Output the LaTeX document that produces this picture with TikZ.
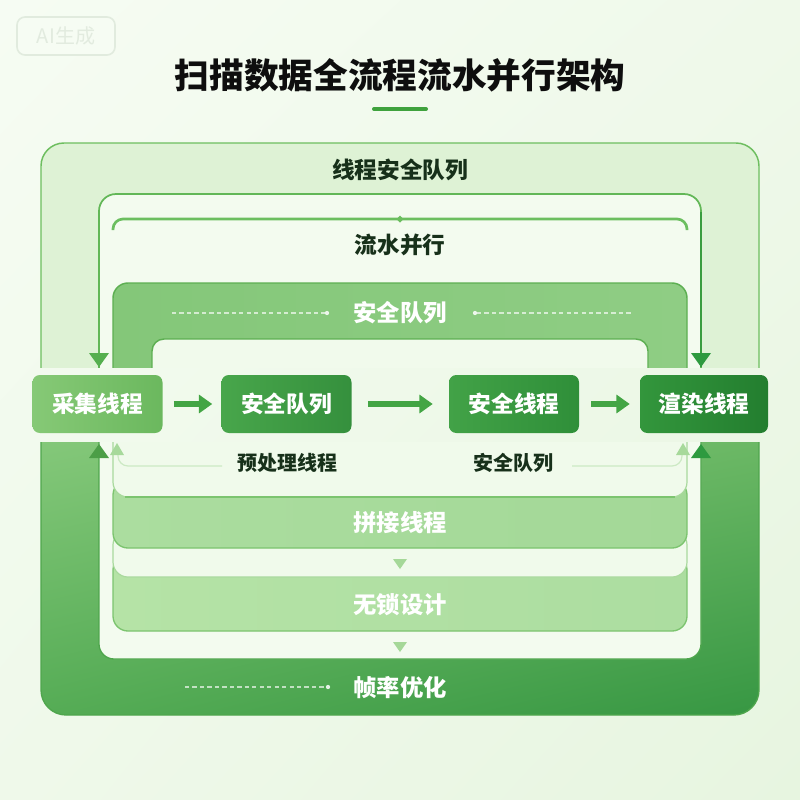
\documentclass[tikz,border=0pt]{standalone}
\usepackage{fontspec}
\newfontfamily\cjk{Noto Sans CJK SC}
\usetikzlibrary{arrows.meta,shadings}
\definecolor{bgA}{HTML}{F6FCF3}
\definecolor{bgB}{HTML}{EFF9EA}
\definecolor{bgC}{HTML}{E7F5E0}
\definecolor{wmline}{HTML}{E1EBDE}
\definecolor{wmtext}{HTML}{E2EBDF}
\definecolor{titlec}{HTML}{0E0E0E}
\definecolor{uline}{HTML}{3FA23D}
\definecolor{outerfill}{HTML}{DEF2D5}
\definecolor{outerline}{HTML}{6DBE5F}
\definecolor{frameB}{HTML}{F3FBEF}
\definecolor{frameBline}{HTML}{62B757}
\definecolor{frameBdark}{HTML}{3A9D40}
\definecolor{bracketc}{HTML}{6BBE5F}
\definecolor{boxCa}{HTML}{84C779}
\definecolor{boxCb}{HTML}{8FCD84}
\definecolor{boxCline}{HTML}{5DAF52}
\definecolor{boxD}{HTML}{F1FAEC}
\definecolor{lblc}{HTML}{17301A}
\definecolor{gU1}{HTML}{8BCC7F}
\definecolor{gU2}{HTML}{73BD6A}
\definecolor{gU3}{HTML}{55AC55}
\definecolor{gU4}{HTML}{379743}
\definecolor{gUline}{HTML}{4FA64D}
\definecolor{bandA}{HTML}{ABDD9F}
\definecolor{bandB}{HTML}{A3D897}
\definecolor{bandC}{HTML}{B5E3A6}
\definecolor{bandD}{HTML}{ACDDA0}
\definecolor{bandline}{HTML}{7CC46F}
\definecolor{cardW}{HTML}{F0FAEB}
\definecolor{cardline}{HTML}{A9D99D}
\definecolor{tri}{HTML}{A5D898}
\definecolor{arrL}{HTML}{55AF4F}
\definecolor{arrR}{HTML}{2E9A3F}
\definecolor{arrLight}{HTML}{A7D99B}
\definecolor{flowc}{HTML}{43A544}
\definecolor{nAa}{HTML}{86C976}
\definecolor{nAb}{HTML}{6BB85E}
\definecolor{nBa}{HTML}{48A64B}
\definecolor{nBb}{HTML}{35903D}
\definecolor{nCa}{HTML}{42A247}
\definecolor{nCb}{HTML}{2F8F39}
\definecolor{nDa}{HTML}{33963C}
\definecolor{nDb}{HTML}{237E2F}
\tikzset{
  procbox/.style={minimum width=97.5pt, minimum height=43.5pt, rounded corners=5.5pt,
    text=white, font=\cjk\bfseries\fontsize{17}{20}\selectfont, inner sep=0pt},
  lbl/.style={text=lblc, font=\cjk\bfseries\fontsize{17}{20}\selectfont, inner sep=1pt},
  sublbl/.style={text=lblc, font=\cjk\bfseries\fontsize{15}{18}\selectfont, inner sep=1pt},
  wlbl/.style={text=white, font=\cjk\bfseries\fontsize{17.5}{20}\selectfont, inner sep=1pt},
  flowarr/.style={draw=flowc, line width=5pt, -{Triangle[length=10pt,width=13.5pt]}},
  dashw/.style={draw=white, opacity=.65, line width=.9pt, dash pattern=on 3.2pt off 2.4pt},
}
\begin{document}
\begin{tikzpicture}[x=0.75pt,y=-0.75pt]
\useasboundingbox (0,0) rectangle (800,800);
\shade[upper left=bgA, upper right=bgB, lower left=bgB, lower right=bgC] (0,0) rectangle (800,800);

% watermark
\draw[draw=wmline, line width=1.2pt, rounded corners=6pt, fill=bgA] (17,17) rectangle (115,55);
\node[text=wmtext, font=\cjk\fontsize{15}{17}\selectfont] (wm) at (66,36) {AI生成};

% title
\node[text=titlec, font=\cjk\bfseries\fontsize{26}{30}\selectfont] (title) at (400,75) {扫描数据全流程流水并行架构};
\draw[draw=uline, line width=3pt, line cap=round] (374,109) -- (426,109);

% upper frames
\begin{scope}
\clip (0,0) rectangle (800,367);
\filldraw[fill=outerfill, draw=outerline, line width=1.1pt, rounded corners=17.25pt] (41,143) rectangle (759,440);
\filldraw[fill=frameB, draw=frameBline, line width=1.3pt, rounded corners=12.75pt] (99,194) rectangle (701,440);
\draw[draw=frameBdark, line width=1.3pt] (701,212) -- (701,367);
\shadedraw[left color=boxCa, right color=boxCb, draw=boxCline, line width=1.1pt, rounded corners=11.25pt] (113,283) rectangle (687,440);
\filldraw[fill=boxD, draw=boxCline, line width=1.1pt, rounded corners=9pt] (152,339) rectangle (648,440);
\end{scope}
\fill[arrL] (89,353) -- (109,353) -- (99,367) -- cycle;
\fill[arrR] (691,353) -- (711,353) -- (701,367) -- cycle;

% bracket
\draw[draw=bracketc, line width=2pt, rounded corners=7.5pt] (113,230) -- (113,219) -- (687,219) -- (687,230);
\fill[bracketc] (400,215.5) -- (403.5,219) -- (400,222.5) -- (396.5,219) -- cycle;

\node[lbl] (lA) at (400,170) {线程安全队列};
\node[lbl] (lB) at (400,245) {流水并行};
\node[wlbl] (lC) at (400,313) {安全队列};
\draw[dashw] (172,313) -- (325,313);
\fill[white, opacity=.85] (327,313) circle (1.6pt);
\draw[dashw] (477,313) -- (632,313);
\fill[white, opacity=.85] (475,313) circle (1.6pt);

% lower part
\begin{scope}
\clip (0,442) rectangle (800,800);
\shadedraw[upper left=gU1, upper right=gU2, lower left=gU3, lower right=gU4, draw=gUline, line width=1pt, rounded corners=18.75pt] (41,400) rectangle (759,715);
\filldraw[fill=frameB, draw=gUline, line width=1pt, rounded corners=11.25pt] (99,400) rectangle (701,659);
\shadedraw[left color=bandC, right color=bandD, draw=bandline, line width=1pt, rounded corners=11.25pt] (113,555) rectangle (687,631);
\filldraw[fill=cardW, draw=cardline, line width=.9pt, rounded corners=11.25pt] (113,530) rectangle (687,577);
\shadedraw[left color=bandA, right color=bandB, draw=bandline, line width=1pt, rounded corners=11.25pt] (113,480) rectangle (687,548);
\filldraw[fill=cardW, draw=cardline, line width=.9pt, rounded corners=11.25pt] (113,420) rectangle (687,497);
\draw[draw=bandline, line width=1pt] (125,497) -- (675,497);
\end{scope}
\draw[draw=cardline, opacity=.5, line width=.9pt, rounded corners=7.5pt] (118,452) -- (118,466) -- (222,466);
\draw[draw=cardline, opacity=.5, line width=.9pt, rounded corners=7.5pt] (682,452) -- (682,466) -- (572,466);
\fill[arrLight] (110,455) -- (124,455) -- (117,443) -- cycle;
\fill[arrLight] (676,455) -- (690,455) -- (683,443) -- cycle;
\fill[arrL!90!black] (89,458) -- (109,458) -- (99,444) -- cycle;
\fill[arrR] (691,458) -- (711,458) -- (701,444) -- cycle;
\fill[tri] (393,559) -- (407,559) -- (400,569) -- cycle;
\fill[tri] (393,642) -- (407,642) -- (400,652) -- cycle;

\node[wlbl] (lD) at (400,523) {拼接线程};
\node[wlbl] (lE) at (400,605) {无锁设计};
\node[wlbl] (lF) at (400,688) {帧率优化};
\draw[dashw] (185,687) -- (326,687);
\fill[white, opacity=.85] (328,687) circle (1.6pt);

% middle row
\node[procbox, left color=nAa, right color=nAb] (n1) at (97.5,404) {采集线程};
\node[procbox, left color=nBa, right color=nBb] (n2) at (286.5,404) {安全队列};
\node[procbox, left color=nCa, right color=nCb] (n3) at (514,404) {安全线程};
\node[procbox, left color=nDa, right color=nDb, minimum width=96pt] (n4) at (704,404) {渲染线程};
\draw[flowarr, shorten <=8.25pt, shorten >=6.75pt] (n1) -- (n2);
\draw[flowarr, shorten <=12pt, shorten >=12pt] (n2) -- (n3);
\draw[flowarr, shorten <=9pt, shorten >=7.5pt] (n3) -- (n4);

\node[sublbl] (s1) at (287,463) {预处理线程};
\node[sublbl] (s2) at (513,463) {安全队列};
\end{tikzpicture}
\end{document}
